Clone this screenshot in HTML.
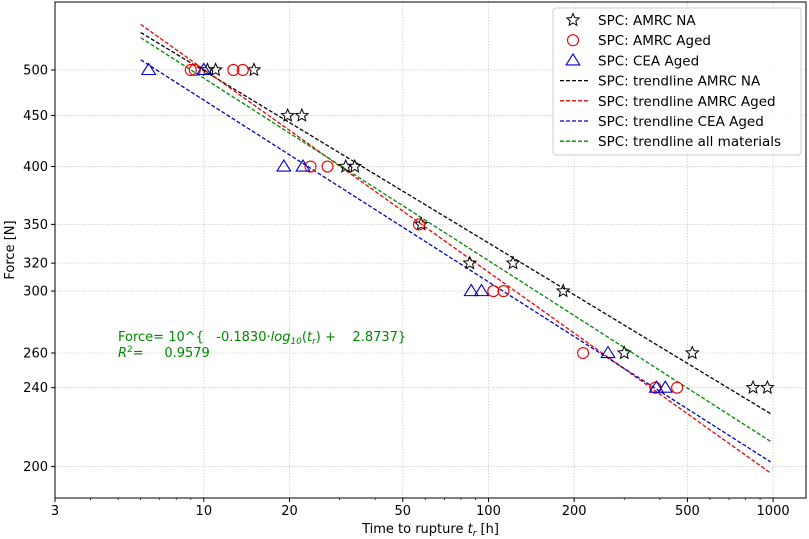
<!DOCTYPE html>
<html><head><meta charset="utf-8"><style>
html,body{margin:0;padding:0;background:#fff;}
svg{display:block;font-family:"DejaVu Sans","Liberation Sans",sans-serif;}
</style></head><body>
<svg id="chart" width="809" height="539" viewBox="0 0 809 539"></svg>
<script>
const xTicks=[3,10,20,50,100,200,500,1000];
const yTicks=[200,240,260,300,320,350,400,450,500];
const naT=[10.3,11.0,15.0,19.7,22.1,31.5,33.9,58,86,122,183,300,520,850,955];
const naF=[500,500,500,450,450,400,400,350,320,320,300,260,260,240,240];
const agedT=[9.0,9.3,12.7,13.7,23.7,27.2,57,104,113,215,386,460];
const agedF=[500,500,500,500,400,400,350,300,300,260,240,240];
const ceaT=[6.4,10.0,19.1,22.3,87,94.5,263,389,418];
const ceaF=[500,500,400,400,300,300,260,240,240];
const trendNames=['trend-amrc-na','trend-amrc-aged','trend-cea-aged','trend-all'];
const trendSlope=[-0.1728,-0.2034,-0.1823,-0.1830];
const trendIntercept=[2.871,2.903,2.851,2.8737];
const trendColors=['#000','#e00','#00c','#080'];
const trendRange=[6.0,980];

const NS='http://www.w3.org/2000/svg';
const svg=document.getElementById('chart');
const L=55,R=806,T=2,B=498;
const xmin=Math.log10(3),xmax=Math.log10(1305),ymin=Math.log10(186),ymax=Math.log10(585);
const X=v=>L+(Math.log10(v)-xmin)/(xmax-xmin)*(R-L);
const Y=v=>B-(Math.log10(v)-ymin)/(ymax-ymin)*(B-T);
function el(tag,attrs,parent){const e=document.createElementNS(NS,tag);for(const k in attrs)e.setAttribute(k,attrs[k]);(parent||svg).appendChild(e);return e;}

const grid=el('g',{});


xTicks.forEach(t=>{el('line',{x1:X(t),x2:X(t),y1:T,y2:B,stroke:'#ccc','stroke-width':0.8,'stroke-dasharray':'1.5,1.5'},grid);});
yTicks.forEach(t=>{el('line',{x1:L,x2:R,y1:Y(t),y2:Y(t),stroke:'#ccc','stroke-width':0.8,'stroke-dasharray':'1.5,1.5'},grid);});

const ax=el('g',{});


el('rect',{x:L,y:T,width:R-L,height:B-T,fill:'none',stroke:'#000','stroke-width':1},ax);
for(let d=0;d<4;d++)for(let m=2;m<10;m++){const v=m*Math.pow(10,d);if(v<3||v>1305)continue;el('line',{x1:X(v),x2:X(v),y1:B,y2:B+2,stroke:'#000','stroke-width':0.7},ax);}
xTicks.forEach(t=>{el('line',{x1:X(t),x2:X(t),y1:B,y2:B+4,stroke:'#000'},ax);
 const tx=el('text',{x:X(t),y:B+17,'text-anchor':'middle','font-size':13},ax);tx.textContent=t;
 
 });
yTicks.forEach(t=>{el('line',{x1:L-4,x2:L,y1:Y(t),y2:Y(t),stroke:'#000'},ax);
 const tx=el('text',{x:L-7,y:Y(t)+4.5,'text-anchor':'end','font-size':13},ax);tx.textContent=t;
 
 });
const xt=el('text',{x:(L+R)/2,y:533,'text-anchor':'middle','font-size':13},ax);
xt.innerHTML='Time to rupture <tspan font-style="italic">t</tspan><tspan font-style="italic" font-size="9" dy="3">r</tspan><tspan dy="-3"> [h]</tspan>';


const yt=el('text',{x:0,y:0,'text-anchor':'middle','font-size':13,transform:`translate(14,${(T+B)/2}) rotate(-90)`},ax);
yt.textContent='Force [N]';



trendSlope.forEach((s,i)=>{
 const f=t=>Math.pow(10,trendIntercept[i]+s*Math.log10(t));
 const ln=el('line',{x1:X(trendRange[0]),y1:Y(f(trendRange[0])),x2:X(trendRange[1]),y2:Y(f(trendRange[1])),stroke:trendColors[i],'stroke-width':1.3,'stroke-dasharray':'4,2'});
 
 
});

function star(cx,cy,r,parent){let p='';for(let k=0;k<10;k++){const a=-Math.PI/2+k*Math.PI/5,rr=k%2?r*0.45:r;p+=(cx+rr*Math.cos(a))+','+(cy+rr*Math.sin(a))+' ';}return el('polygon',{points:p,fill:'none',stroke:'#000','stroke-width':1},parent);}
function tri(cx,cy,r,parent){return el('polygon',{points:`${cx},${cy-r} ${cx-r*1.05},${cy+r*0.7} ${cx+r*1.05},${cy+r*0.7}`,fill:'none',stroke:'#00c','stroke-width':1.1},parent);}
naT.forEach((t,i)=>{const m=star(X(t),Y(naF[i]),6.5);});
agedT.forEach((t,i)=>{const m=el('circle',{cx:X(t),cy:Y(agedF[i]),r:5.5,fill:'none',stroke:'#e00','stroke-width':1.1});});
ceaT.forEach((t,i)=>{const m=tri(X(t),Y(ceaF[i]),6.5);});

const eq=el('text',{x:118,y:341,'font-size':13,fill:'#080'});
eq.innerHTML='Force= 10^{&#160;&#160;&#160;-0.1830·<tspan font-style="italic">log</tspan><tspan font-style="italic" font-size="9" dy="3">10</tspan><tspan dy="-3">(</tspan><tspan font-style="italic">t</tspan><tspan font-style="italic" font-size="9" dy="3">r</tspan><tspan dy="-3">) +&#160;&#160;&#160;&#160;2.8737}</tspan>';


const r2=el('text',{x:118,y:357,'font-size':13,fill:'#080'});
r2.innerHTML='<tspan font-style="italic">R</tspan><tspan font-size="9" dy="-5">2</tspan><tspan dy="5">=&#160;&#160;&#160;&#160;&#160;0.9579</tspan>';



const lg=el('g',{});


el('rect',{x:553,y:8,width:248,height:147,rx:3,fill:'#fff','fill-opacity':0.85,stroke:'#ccc'},lg);
const labels=['SPC: AMRC NA','SPC: AMRC Aged','SPC: CEA Aged','SPC: trendline AMRC NA','SPC: trendline AMRC Aged','SPC: trendline CEA Aged','SPC: trendline all materials'];
labels.forEach((lab,i)=>{const y=20+i*20.2;
 if(i===0)star(573,y,6.5,lg);
 else if(i===1)el('circle',{cx:573,cy:y,r:5.5,fill:'none',stroke:'#e00','stroke-width':1.1},lg);
 else if(i===2)tri(573,y,6.5,lg);
 else el('line',{x1:560,x2:588,y1:y,y2:y,stroke:trendColors[i-3],'stroke-width':1.3,'stroke-dasharray':'4,2'},lg);
 const tx=el('text',{x:598,y:y+5,'font-size':13.5},lg);tx.textContent=lab;
 
 
});
</script>
</body></html>
